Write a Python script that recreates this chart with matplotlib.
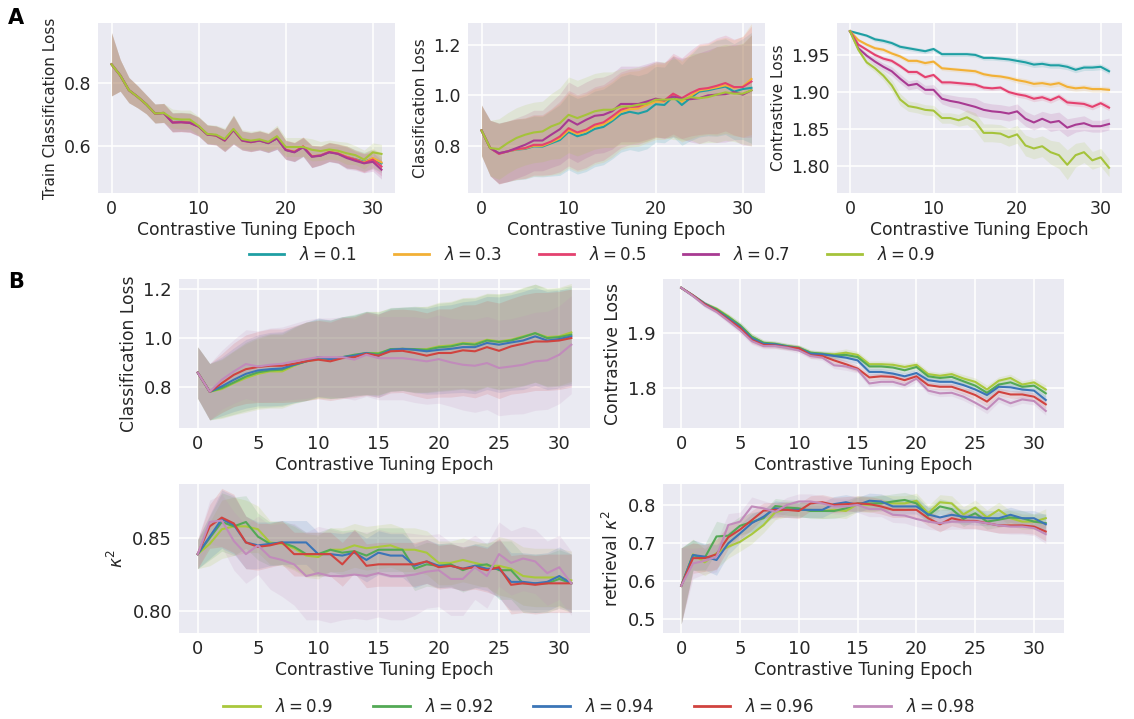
import matplotlib
matplotlib.use("Agg")
import matplotlib.pyplot as plt
from matplotlib.ticker import FormatStrFormatter
from matplotlib.lines import Line2D
import numpy as np

# ---------------- data ----------------
epochs = list(range(32))

lam_top = ["0.1", "0.3", "0.5", "0.7", "0.9"]
colors_top = ["#1f9fa3", "#f2b035", "#e4416f", "#a83a92", "#a5c33a"]

lam_bottom = ["0.9", "0.92", "0.94", "0.96", "0.98"]
colors_bottom = ["#a9c83c", "#53a955", "#3b75b7", "#d0433f", "#c18bbb"]

# A: train classification loss
a_train_01 = [0.859, 0.824, 0.777, 0.756, 0.732, 0.703, 0.705, 0.676, 0.677, 0.675, 0.662, 0.637, 0.634, 0.618, 0.652, 0.618,
              0.613, 0.618, 0.609, 0.625, 0.588, 0.581, 0.597, 0.567, 0.570, 0.581, 0.576, 0.565, 0.558, 0.550, 0.560, 0.545]
a_train_03 = [0.859, 0.824, 0.777, 0.756, 0.732, 0.703, 0.705, 0.675, 0.676, 0.674, 0.662, 0.637, 0.633, 0.617, 0.651, 0.617,
              0.612, 0.618, 0.610, 0.626, 0.589, 0.582, 0.598, 0.568, 0.570, 0.582, 0.577, 0.566, 0.557, 0.548, 0.562, 0.548]
a_train_05 = [0.859, 0.824, 0.777, 0.756, 0.732, 0.703, 0.705, 0.675, 0.676, 0.674, 0.662, 0.637, 0.634, 0.618, 0.652, 0.618,
              0.613, 0.618, 0.610, 0.625, 0.588, 0.581, 0.599, 0.567, 0.570, 0.581, 0.576, 0.565, 0.557, 0.546, 0.557, 0.535]
a_train_07 = [0.859, 0.824, 0.777, 0.756, 0.732, 0.703, 0.704, 0.674, 0.675, 0.673, 0.661, 0.636, 0.633, 0.617, 0.650, 0.617,
              0.612, 0.617, 0.609, 0.624, 0.587, 0.580, 0.596, 0.566, 0.569, 0.580, 0.575, 0.562, 0.553, 0.545, 0.550, 0.525]
a_train_09 = [0.859, 0.824, 0.777, 0.756, 0.732, 0.703, 0.705, 0.687, 0.684, 0.684, 0.664, 0.638, 0.636, 0.622, 0.654, 0.622,
              0.617, 0.621, 0.613, 0.631, 0.597, 0.597, 0.597, 0.588, 0.584, 0.589, 0.585, 0.577, 0.571, 0.557, 0.580, 0.575]
a_train_sd = [0.100, 0.050, 0.040, 0.035, 0.030, 0.030, 0.030, 0.030, 0.030, 0.030, 0.030, 0.030, 0.030, 0.035, 0.045, 0.030,
              0.030, 0.030, 0.030, 0.035, 0.030, 0.030, 0.030, 0.035, 0.030, 0.030, 0.030, 0.035, 0.030, 0.030, 0.030, 0.030]

# A: classification loss
a_cls_01 = [0.861, 0.791, 0.770, 0.778, 0.785, 0.788, 0.798, 0.797, 0.810, 0.823, 0.855, 0.838, 0.848, 0.867, 0.875, 0.898,
            0.925, 0.935, 0.928, 0.938, 0.965, 0.962, 0.995, 0.962, 0.990, 1.015, 1.020, 1.028, 1.035, 1.015, 1.025, 1.030]
a_cls_03 = [0.861, 0.791, 0.770, 0.778, 0.786, 0.790, 0.800, 0.800, 0.814, 0.830, 0.862, 0.847, 0.857, 0.877, 0.885, 0.905,
            0.935, 0.945, 0.948, 0.962, 0.975, 0.975, 1.000, 0.975, 0.998, 1.020, 1.025, 1.032, 1.040, 1.030, 1.035, 1.065]
a_cls_05 = [0.861, 0.791, 0.768, 0.778, 0.787, 0.791, 0.804, 0.804, 0.817, 0.837, 0.870, 0.853, 0.864, 0.884, 0.893, 0.917,
            0.943, 0.954, 0.956, 0.970, 0.983, 0.980, 1.007, 0.989, 1.009, 1.025, 1.029, 1.038, 1.049, 1.033, 1.033, 1.055]
a_cls_07 = [0.861, 0.791, 0.771, 0.778, 0.791, 0.804, 0.821, 0.821, 0.844, 0.866, 0.903, 0.884, 0.903, 0.919, 0.923, 0.937,
            0.966, 0.966, 0.966, 0.976, 0.987, 0.980, 0.996, 0.987, 0.985, 0.989, 1.000, 1.003, 1.005, 1.013, 1.003, 1.020]
a_cls_09 = [0.861, 0.791, 0.787, 0.811, 0.831, 0.844, 0.853, 0.857, 0.877, 0.890, 0.923, 0.910, 0.923, 0.937, 0.943, 0.943,
            0.956, 0.956, 0.963, 0.967, 0.983, 0.983, 0.985, 0.983, 0.993, 0.989, 0.993, 1.003, 1.012, 1.007, 1.007, 1.020]
a_cls_sd = [0.100, 0.110, 0.120, 0.120, 0.120, 0.120, 0.120, 0.120, 0.130, 0.140, 0.150, 0.150, 0.150, 0.150, 0.150, 0.150,
            0.150, 0.150, 0.150, 0.150, 0.150, 0.150, 0.160, 0.160, 0.170, 0.180, 0.180, 0.190, 0.190, 0.190, 0.200, 0.220]

# A: contrastive loss
a_con_01 = [1.982, 1.979, 1.976, 1.971, 1.969, 1.966, 1.961, 1.959, 1.957, 1.955, 1.958, 1.951, 1.951, 1.951, 1.951, 1.950,
            1.946, 1.946, 1.945, 1.944, 1.942, 1.940, 1.937, 1.938, 1.936, 1.936, 1.934, 1.930, 1.933, 1.933, 1.934, 1.928]
a_con_03 = [1.982, 1.970, 1.964, 1.959, 1.957, 1.952, 1.948, 1.942, 1.942, 1.939, 1.941, 1.932, 1.931, 1.930, 1.929, 1.928,
            1.924, 1.922, 1.921, 1.919, 1.916, 1.914, 1.911, 1.912, 1.910, 1.912, 1.907, 1.905, 1.906, 1.904, 1.904, 1.903]
a_con_05 = [1.982, 1.964, 1.957, 1.950, 1.945, 1.942, 1.935, 1.927, 1.927, 1.920, 1.923, 1.913, 1.913, 1.912, 1.911, 1.910,
            1.906, 1.905, 1.906, 1.900, 1.897, 1.895, 1.891, 1.893, 1.889, 1.894, 1.886, 1.885, 1.884, 1.880, 1.885, 1.879]
a_con_07 = [1.982, 1.959, 1.949, 1.941, 1.934, 1.928, 1.918, 1.909, 1.911, 1.903, 1.903, 1.891, 1.888, 1.886, 1.883, 1.880,
            1.876, 1.874, 1.873, 1.871, 1.874, 1.864, 1.859, 1.864, 1.859, 1.861, 1.852, 1.856, 1.858, 1.854, 1.854, 1.857]
a_con_09 = [1.982, 1.957, 1.940, 1.932, 1.922, 1.909, 1.890, 1.881, 1.879, 1.876, 1.875, 1.865, 1.865, 1.862, 1.866, 1.860,
            1.845, 1.845, 1.844, 1.839, 1.843, 1.828, 1.824, 1.827, 1.819, 1.815, 1.802, 1.815, 1.819, 1.808, 1.812, 1.798]
a_con_sd = [0.001, 0.002, 0.002, 0.003, 0.003, 0.003, 0.003, 0.003, 0.003, 0.003, 0.003, 0.003, 0.003, 0.003, 0.003, 0.003,
            0.003, 0.003, 0.003, 0.003, 0.004, 0.004, 0.004, 0.004, 0.004, 0.004, 0.004, 0.004, 0.004, 0.004, 0.004, 0.004]
a_con_sd_07 = [0.001, 0.003, 0.004, 0.005, 0.005, 0.006, 0.006, 0.006, 0.006, 0.006, 0.007, 0.007, 0.008, 0.008, 0.010, 0.012,
               0.010, 0.010, 0.010, 0.010, 0.010, 0.010, 0.010, 0.010, 0.012, 0.012, 0.012, 0.010, 0.010, 0.008, 0.008, 0.008]
a_con_sd_09 = [0.001, 0.003, 0.004, 0.005, 0.006, 0.008, 0.008, 0.007, 0.007, 0.007, 0.007, 0.007, 0.007, 0.008, 0.010, 0.012,
               0.012, 0.012, 0.012, 0.012, 0.012, 0.014, 0.014, 0.014, 0.016, 0.018, 0.020, 0.016, 0.014, 0.012, 0.012, 0.012]

# B: classification loss
b_cls_090 = [0.859, 0.781, 0.792, 0.816, 0.837, 0.854, 0.864, 0.864, 0.887, 0.905, 0.914, 0.912, 0.922, 0.928, 0.939, 0.939,
             0.952, 0.956, 0.952, 0.955, 0.966, 0.970, 0.980, 0.977, 0.993, 0.986, 0.993, 1.007, 1.020, 1.004, 1.007, 1.023]
b_cls_092 = [0.859, 0.781, 0.796, 0.819, 0.843, 0.860, 0.868, 0.871, 0.891, 0.905, 0.918, 0.914, 0.922, 0.932, 0.939, 0.936,
             0.955, 0.956, 0.955, 0.952, 0.962, 0.966, 0.977, 0.973, 0.990, 0.984, 0.990, 1.004, 1.020, 1.000, 1.004, 1.014]
b_cls_094 = [0.859, 0.781, 0.803, 0.830, 0.854, 0.868, 0.873, 0.876, 0.891, 0.905, 0.922, 0.914, 0.922, 0.928, 0.939, 0.928,
             0.952, 0.956, 0.952, 0.946, 0.952, 0.956, 0.963, 0.963, 0.980, 0.973, 0.982, 0.990, 1.007, 0.990, 0.996, 1.007]
b_cls_096 = [0.859, 0.781, 0.816, 0.850, 0.873, 0.882, 0.887, 0.887, 0.895, 0.905, 0.912, 0.905, 0.918, 0.922, 0.936, 0.928,
             0.946, 0.948, 0.939, 0.928, 0.939, 0.939, 0.950, 0.946, 0.963, 0.948, 0.966, 0.977, 0.986, 0.986, 0.990, 1.000]
b_cls_098 = [0.859, 0.781, 0.830, 0.864, 0.894, 0.884, 0.891, 0.895, 0.905, 0.914, 0.922, 0.922, 0.922, 0.912, 0.932, 0.918,
             0.918, 0.918, 0.912, 0.905, 0.914, 0.901, 0.891, 0.887, 0.898, 0.878, 0.884, 0.891, 0.905, 0.909, 0.932, 0.973]
b_cls_sd = [0.105, 0.115, 0.120, 0.130, 0.140, 0.145, 0.150, 0.150, 0.155, 0.160, 0.160, 0.160, 0.165, 0.165, 0.170, 0.170,
            0.170, 0.170, 0.175, 0.175, 0.180, 0.180, 0.185, 0.190, 0.190, 0.195, 0.195, 0.200, 0.200, 0.200, 0.200, 0.200]

# B: contrastive loss
b_con_090 = [1.982, 1.968, 1.953, 1.944, 1.930, 1.913, 1.893, 1.882, 1.880, 1.876, 1.873, 1.864, 1.862, 1.861, 1.864, 1.860,
             1.843, 1.843, 1.842, 1.838, 1.842, 1.825, 1.822, 1.825, 1.817, 1.811, 1.797, 1.813, 1.818, 1.806, 1.810, 1.797]
b_con_092 = [1.982, 1.968, 1.953, 1.943, 1.929, 1.914, 1.893, 1.882, 1.880, 1.876, 1.873, 1.864, 1.862, 1.859, 1.860, 1.856,
             1.839, 1.839, 1.837, 1.832, 1.838, 1.821, 1.818, 1.820, 1.812, 1.804, 1.791, 1.806, 1.810, 1.802, 1.804, 1.790]
b_con_094 = [1.982, 1.968, 1.953, 1.941, 1.926, 1.911, 1.890, 1.880, 1.879, 1.875, 1.872, 1.862, 1.861, 1.858, 1.855, 1.850,
             1.829, 1.829, 1.826, 1.821, 1.827, 1.814, 1.811, 1.811, 1.805, 1.797, 1.787, 1.802, 1.801, 1.797, 1.795, 1.778]
b_con_096 = [1.982, 1.968, 1.952, 1.940, 1.924, 1.909, 1.887, 1.878, 1.877, 1.874, 1.872, 1.859, 1.858, 1.850, 1.843, 1.835,
             1.819, 1.821, 1.820, 1.814, 1.821, 1.805, 1.802, 1.802, 1.795, 1.787, 1.775, 1.793, 1.788, 1.788, 1.784, 1.770]
b_con_098 = [1.982, 1.967, 1.950, 1.938, 1.922, 1.905, 1.885, 1.876, 1.876, 1.873, 1.868, 1.858, 1.855, 1.841, 1.839, 1.833,
             1.808, 1.811, 1.811, 1.805, 1.817, 1.795, 1.790, 1.791, 1.784, 1.773, 1.761, 1.781, 1.772, 1.779, 1.776, 1.758]
b_con_sd = [0.002, 0.003, 0.004, 0.004, 0.005, 0.006, 0.006, 0.005, 0.005, 0.005, 0.005, 0.005, 0.005, 0.006, 0.007, 0.006,
            0.006, 0.006, 0.006, 0.006, 0.006, 0.006, 0.006, 0.006, 0.007, 0.007, 0.008, 0.007, 0.007, 0.007, 0.007, 0.008]

# B: kappa^2
b_kap_090 = [0.839, 0.846, 0.856, 0.858, 0.858, 0.856, 0.847, 0.846, 0.843, 0.838, 0.837, 0.842, 0.842, 0.845, 0.843, 0.844,
             0.845, 0.842, 0.842, 0.840, 0.833, 0.833, 0.835, 0.833, 0.831, 0.831, 0.829, 0.824, 0.823, 0.823, 0.823, 0.821]
b_kap_092 = [0.839, 0.850, 0.861, 0.858, 0.861, 0.851, 0.846, 0.847, 0.844, 0.839, 0.839, 0.842, 0.840, 0.841, 0.838, 0.842,
             0.842, 0.842, 0.829, 0.832, 0.831, 0.832, 0.828, 0.831, 0.832, 0.828, 0.828, 0.819, 0.819, 0.819, 0.822, 0.819]
b_kap_094 = [0.839, 0.851, 0.863, 0.859, 0.847, 0.845, 0.846, 0.847, 0.847, 0.847, 0.839, 0.839, 0.838, 0.840, 0.835, 0.840,
             0.838, 0.838, 0.831, 0.834, 0.831, 0.831, 0.829, 0.831, 0.829, 0.829, 0.820, 0.820, 0.819, 0.820, 0.824, 0.819]
b_kap_096 = [0.839, 0.858, 0.864, 0.860, 0.847, 0.844, 0.845, 0.847, 0.839, 0.839, 0.839, 0.839, 0.832, 0.841, 0.831, 0.832,
             0.832, 0.832, 0.832, 0.834, 0.830, 0.831, 0.829, 0.830, 0.828, 0.830, 0.818, 0.819, 0.818, 0.819, 0.819, 0.819]
b_kap_098 = [0.839, 0.861, 0.862, 0.848, 0.839, 0.845, 0.837, 0.835, 0.832, 0.824, 0.826, 0.824, 0.824, 0.825, 0.824, 0.826,
             0.824, 0.824, 0.825, 0.827, 0.828, 0.822, 0.822, 0.830, 0.824, 0.839, 0.833, 0.836, 0.834, 0.826, 0.830, 0.819]
b_kap_sd = [0.010, 0.015, 0.020, 0.020, 0.018, 0.016, 0.015, 0.015, 0.015, 0.015, 0.015, 0.015, 0.015, 0.015, 0.015, 0.015,
            0.015, 0.015, 0.015, 0.015, 0.015, 0.015, 0.015, 0.015, 0.015, 0.020, 0.020, 0.020, 0.020, 0.020, 0.020, 0.020]
b_kap_sd_098 = [0.010, 0.015, 0.018, 0.020, 0.020, 0.020, 0.022, 0.025, 0.028, 0.030, 0.032, 0.032, 0.030, 0.030, 0.030, 0.030,
                0.030, 0.030, 0.028, 0.025, 0.025, 0.025, 0.025, 0.022, 0.022, 0.022, 0.022, 0.022, 0.022, 0.022, 0.022, 0.022]

# B: retrieval kappa^2
b_ret_090 = [0.587, 0.670, 0.649, 0.673, 0.690, 0.703, 0.723, 0.747, 0.781, 0.789, 0.787, 0.787, 0.784, 0.787, 0.784, 0.802,
             0.800, 0.807, 0.804, 0.804, 0.811, 0.778, 0.807, 0.804, 0.775, 0.793, 0.767, 0.787, 0.765, 0.756, 0.756, 0.765]
b_ret_092 = [0.587, 0.668, 0.661, 0.717, 0.719, 0.745, 0.755, 0.765, 0.797, 0.793, 0.791, 0.784, 0.784, 0.784, 0.791, 0.804,
             0.804, 0.804, 0.809, 0.813, 0.804, 0.772, 0.796, 0.789, 0.763, 0.778, 0.756, 0.761, 0.767, 0.765, 0.756, 0.752]
b_ret_094 = [0.587, 0.668, 0.664, 0.655, 0.699, 0.725, 0.752, 0.769, 0.791, 0.787, 0.787, 0.787, 0.787, 0.802, 0.807, 0.800,
             0.811, 0.809, 0.796, 0.796, 0.796, 0.775, 0.767, 0.774, 0.769, 0.767, 0.765, 0.765, 0.774, 0.765, 0.765, 0.749]
b_ret_096 = [0.587, 0.660, 0.660, 0.670, 0.715, 0.735, 0.760, 0.785, 0.787, 0.787, 0.784, 0.804, 0.807, 0.800, 0.802, 0.804,
             0.802, 0.796, 0.787, 0.787, 0.787, 0.765, 0.749, 0.765, 0.758, 0.758, 0.752, 0.746, 0.746, 0.746, 0.743, 0.730]
b_ret_098 = [0.587, 0.646, 0.653, 0.664, 0.747, 0.756, 0.796, 0.791, 0.782, 0.800, 0.809, 0.809, 0.804, 0.796, 0.796, 0.800,
             0.789, 0.789, 0.774, 0.772, 0.763, 0.756, 0.752, 0.756, 0.756, 0.756, 0.752, 0.746, 0.743, 0.743, 0.739, 0.723]
b_ret_sd = [0.100, 0.040, 0.035, 0.040, 0.030, 0.025, 0.025, 0.020, 0.020, 0.020, 0.020, 0.020, 0.020, 0.020, 0.020, 0.020,
            0.020, 0.020, 0.020, 0.020, 0.020, 0.020, 0.020, 0.020, 0.020, 0.020, 0.020, 0.020, 0.020, 0.020, 0.020, 0.025]

# ---------------- style ----------------
plt.rcParams.update({
    "font.family": ["DejaVu Sans"],
    "axes.facecolor": "#EAEAF2",
    "axes.edgecolor": "white",
    "axes.grid": True,
    "grid.color": "white",
    "grid.linewidth": 1.1,
    "axes.axisbelow": True,
    "text.color": "0.15",
    "axes.labelcolor": "0.15",
    "xtick.color": "0.15",
    "ytick.color": "0.15",
    "xtick.major.size": 0,
    "ytick.major.size": 0,
    "xtick.major.pad": 5,
    "ytick.major.pad": 5,
})

W, H = 1134, 719
fig = plt.figure(figsize=(W / 100, H / 100), dpi=100)


def add_axes(left, right, top, bottom):
    return fig.add_axes([left / W, 1 - bottom / H, (right - left) / W, (bottom - top) / H])


def draw(ax, means, sds, colors, ylim, yticks, xticks, fmt, ylabel, ylabel_size, tick_size):
    for m, s, c in zip(means, sds, colors):
        m = np.asarray(m)
        s = np.asarray(s)
        ax.fill_between(epochs, m - s, m + s, color=c, alpha=0.15, linewidth=0)
    for m, c in zip(means, colors):
        ax.plot(epochs, m, color=c, lw=1.5)
    for sp in ax.spines.values():
        sp.set_visible(False)
    ax.set_xlim(-1.55, 32.55)
    ax.set_ylim(*ylim)
    ax.set_yticks(yticks)
    ax.set_xticks(xticks)
    ax.yaxis.set_major_formatter(FormatStrFormatter(fmt))
    ax.tick_params(labelsize=tick_size)
    ax.set_xlabel("Contrastive Tuning Epoch", fontsize=12.3, labelpad=2)
    ax.set_ylabel(ylabel, fontsize=ylabel_size, labelpad=4)


# ---- row A ----
axA1 = add_axes(98, 395, 23, 193)
draw(axA1, [a_train_01, a_train_03, a_train_05, a_train_07, a_train_09], [a_train_sd] * 5, colors_top,
     (0.451, 0.99), [0.6, 0.8], [0, 10, 20, 30], "%.1f", "Train Classification Loss", 11, 12.5)

axA2 = add_axes(468, 765, 23, 193)
draw(axA2, [a_cls_01, a_cls_03, a_cls_05, a_cls_07, a_cls_09], [a_cls_sd] * 5, colors_top,
     (0.613, 1.287), [0.8, 1.0, 1.2], [0, 10, 20, 30], "%.1f", "Classification Loss", 11, 12.5)

axA3 = add_axes(837, 1122, 23, 193)
draw(axA3, [a_con_01, a_con_03, a_con_05, a_con_07, a_con_09],
     [a_con_sd, a_con_sd, a_con_sd, a_con_sd_07, a_con_sd_09], colors_top,
     (1.764, 1.993), [1.80, 1.85, 1.90, 1.95], [0, 10, 20, 30], "%.2f", "Contrastive Loss", 11, 12.5)

# ---- row B ----
axB1 = add_axes(179, 590, 279, 428)
draw(axB1, [b_cls_090, b_cls_092, b_cls_094, b_cls_096, b_cls_098], [b_cls_sd] * 5, colors_bottom,
     (0.633, 1.241), [0.8, 1.0, 1.2], list(range(0, 31, 5)), "%.1f", "Classification Loss", 12.3, 13)

axB2 = add_axes(663, 1064, 279, 428)
draw(axB2, [b_con_090, b_con_092, b_con_094, b_con_096, b_con_098], [b_con_sd] * 5, colors_bottom,
     (1.727, 1.998), [1.8, 1.9], list(range(0, 31, 5)), "%.1f", "Contrastive Loss", 12.3, 13)

axB3 = add_axes(179, 590, 484, 633)
draw(axB3, [b_kap_090, b_kap_092, b_kap_094, b_kap_096, b_kap_098],
     [b_kap_sd, b_kap_sd, b_kap_sd, b_kap_sd, b_kap_sd_098], colors_bottom,
     (0.785, 0.887), [0.80, 0.85], list(range(0, 31, 5)), "%.2f", r"$\kappa^2$", 12.3, 13)

axB4 = add_axes(663, 1064, 484, 633)
draw(axB4, [b_ret_090, b_ret_092, b_ret_094, b_ret_096, b_ret_098], [b_ret_sd] * 5, colors_bottom,
     (0.463, 0.855), [0.5, 0.6, 0.7, 0.8], list(range(0, 31, 5)), "%.1f", r"retrieval $\kappa^2$", 12.3, 13)

# ---- legends ----
top_handles = [Line2D([], [], color=c, lw=2) for c in colors_top]
fig.legend(top_handles, [rf"$\lambda = {v}$" for v in lam_top], loc="center",
           bbox_to_anchor=(592 / W, 1 - 255 / H), ncol=5, frameon=False, fontsize=12,
           handlelength=2.1, handletextpad=0.9, columnspacing=2.2)

bottom_handles = [Line2D([], [], color=c, lw=2) for c in colors_bottom]
fig.legend(bottom_handles, [rf"$\lambda = {v}$" for v in lam_bottom], loc="center",
           bbox_to_anchor=(599 / W, 1 - 707 / H), ncol=5, frameon=False, fontsize=12,
           handlelength=2.2, handletextpad=0.9, columnspacing=2.4)

# ---- panel letters ----
fig.text(8 / W, 1 - 18 / H, "A", fontsize=15, fontweight="bold", color="black", va="center", ha="left")
fig.text(8 / W, 1 - 282 / H, "B", fontsize=15, fontweight="bold", color="black", va="center", ha="left")

fig.savefig("out.png", dpi=100, facecolor="white")
